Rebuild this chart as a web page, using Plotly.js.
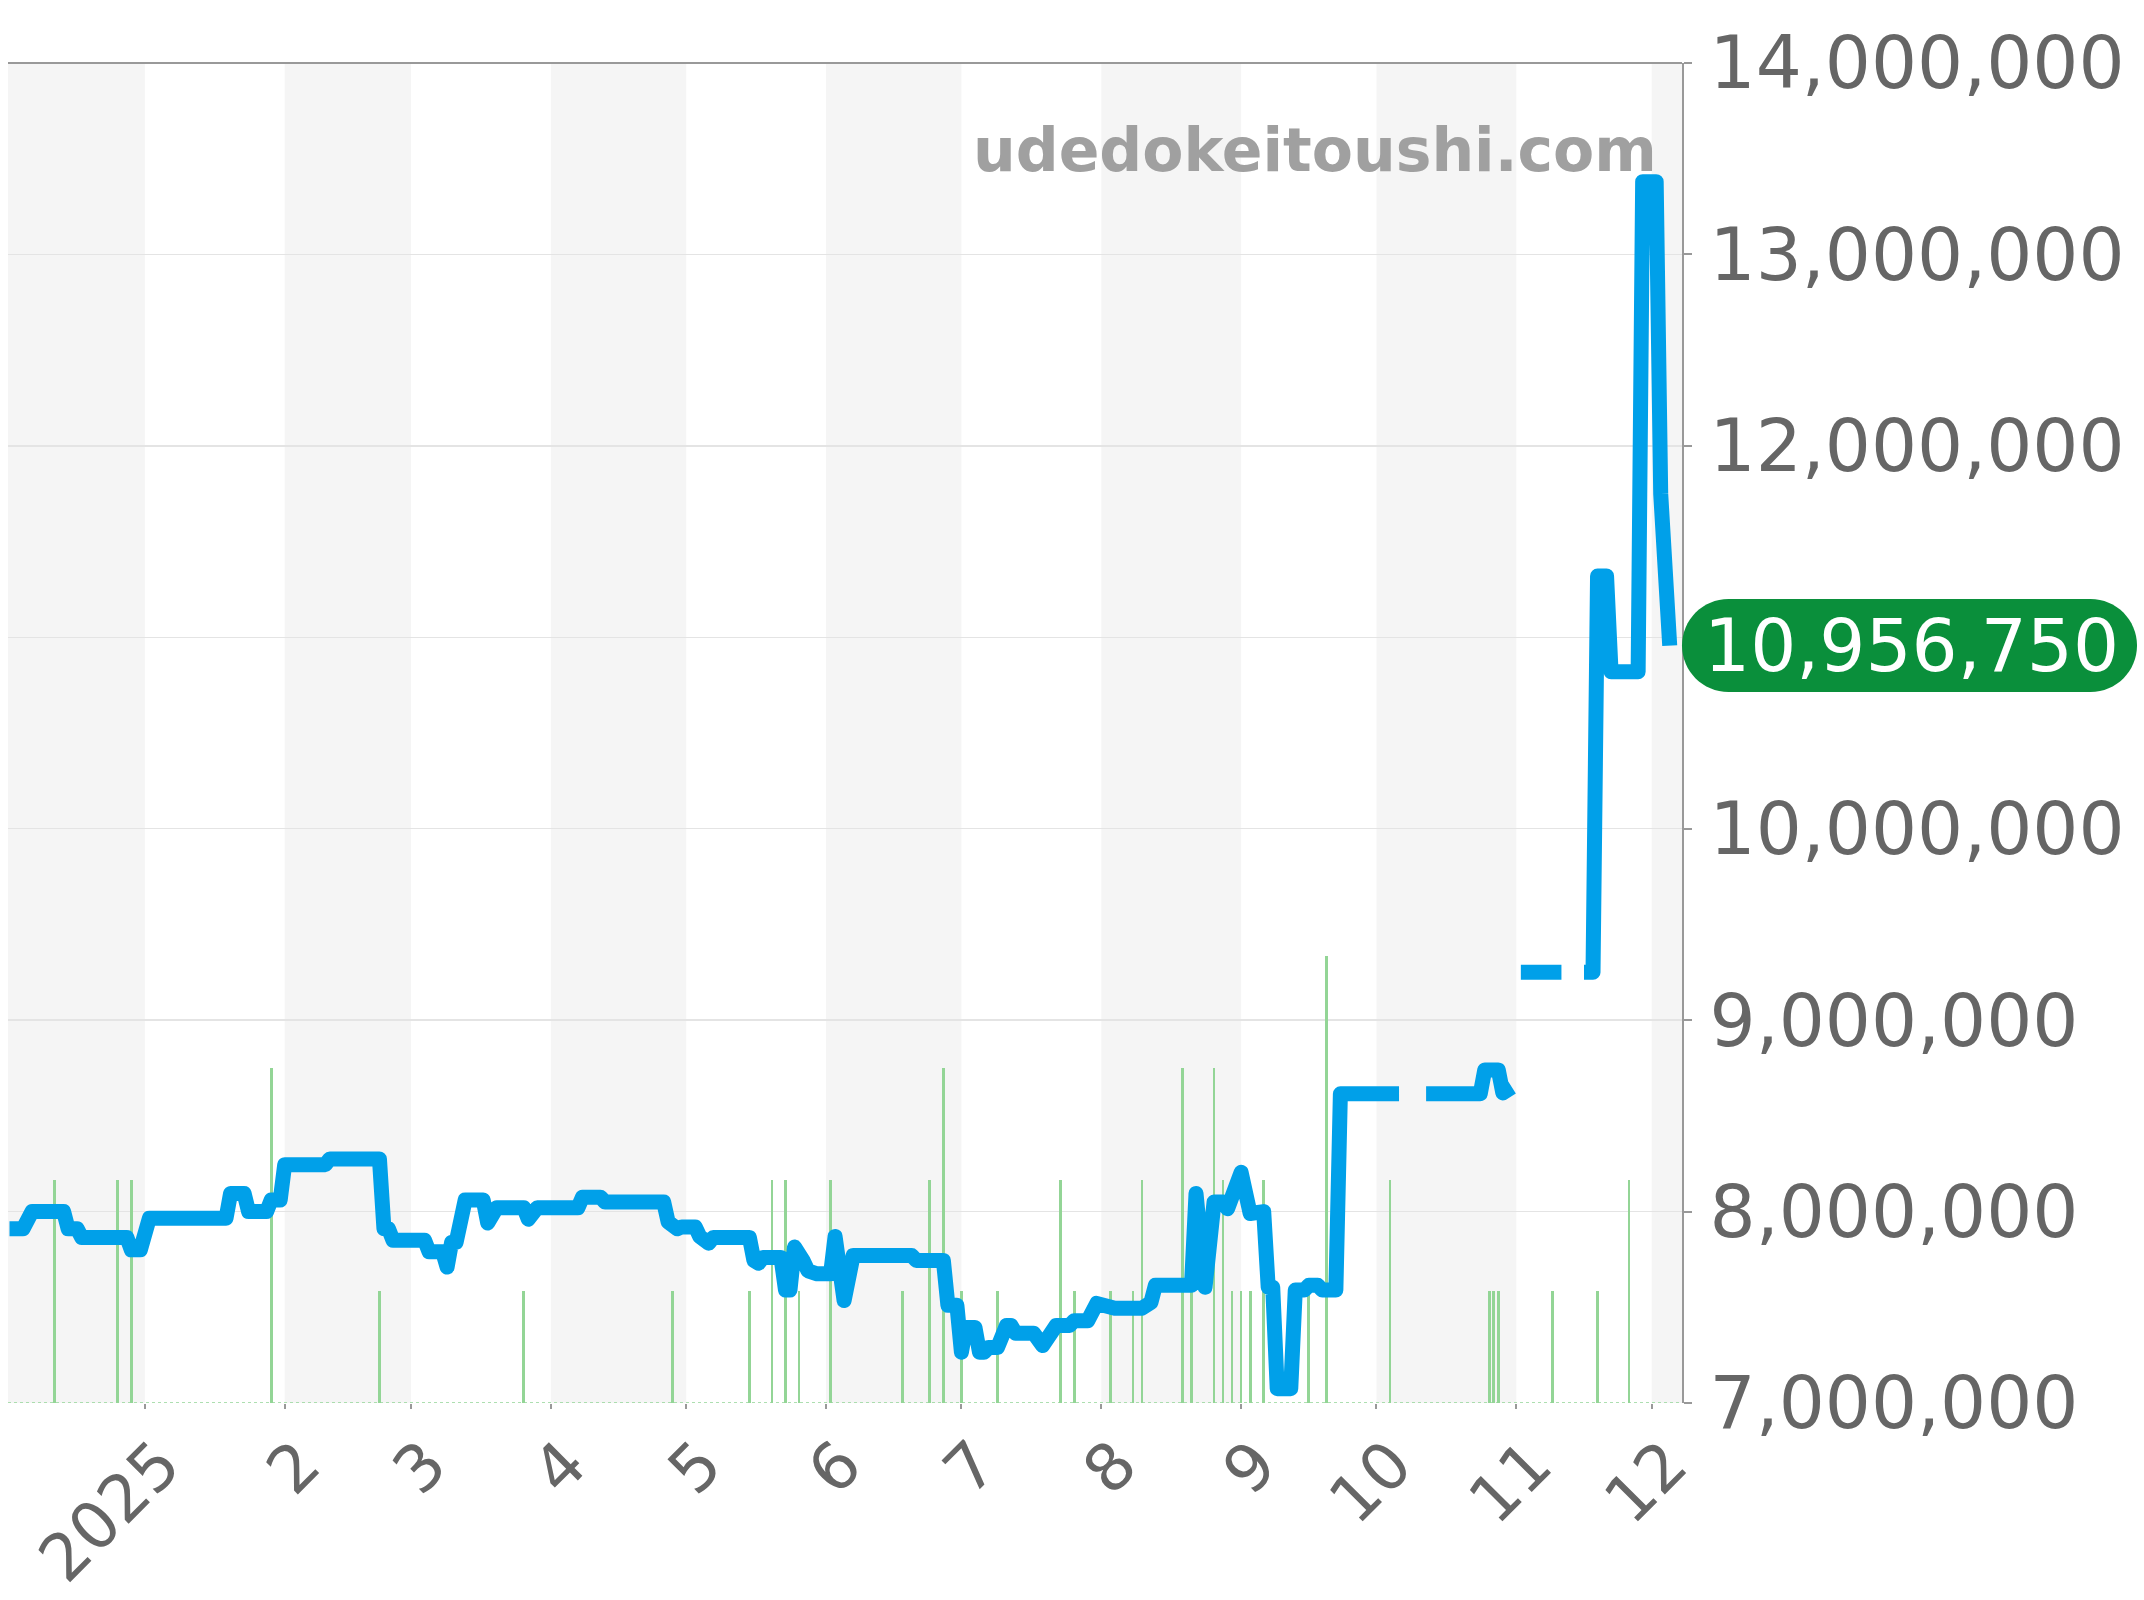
<!DOCTYPE html>
<html>
<head>
<meta charset="utf-8">
<script src="https://cdn.plot.ly/plotly-3.0.1.min.js"></script>
<style>
  html, body { margin: 0; padding: 0; background: #fff; }
  #chart { width: 2144px; height: 1600px; }
  .scatterlayer .js-line { stroke-linejoin: round; }
</style>
</head>
<body>
<div id="chart"></div>
<script>
// Daily market price (JPY); null marks days without a quote
const priceDates = [
  '2024-12-02','2024-12-05','2024-12-07','2024-12-14','2024-12-15','2024-12-17','2024-12-18','2024-12-28',
  '2024-12-29','2024-12-31','2025-01-02','2025-01-19','2025-01-20','2025-01-23','2025-01-24','2025-01-28',
  '2025-01-29','2025-01-31','2025-02-01','2025-02-10','2025-02-11','2025-02-22','2025-02-23','2025-02-24',
  '2025-02-25','2025-03-04','2025-03-05','2025-03-08','2025-03-09','2025-03-10','2025-03-11','2025-03-12',
  '2025-03-13','2025-03-17','2025-03-18','2025-03-20','2025-03-26','2025-03-27','2025-03-29','2025-04-07',
  '2025-04-08','2025-04-12','2025-04-13','2025-04-26','2025-04-27','2025-04-29','2025-04-30','2025-05-03',
  '2025-05-04','2025-05-06','2025-05-07','2025-05-15','2025-05-16','2025-05-17','2025-05-18','2025-05-22',
  '2025-05-23','2025-05-24','2025-05-25','2025-05-27','2025-05-28','2025-05-30','2025-06-02','2025-06-03',
  '2025-06-05','2025-06-07','2025-06-20','2025-06-21','2025-06-27','2025-06-28','2025-06-30','2025-07-01',
  '2025-07-02','2025-07-04','2025-07-05','2025-07-06','2025-07-07','2025-07-09','2025-07-11','2025-07-12',
  '2025-07-13','2025-07-17','2025-07-19','2025-07-22','2025-07-25','2025-07-26','2025-07-29','2025-07-31',
  '2025-08-02','2025-08-04','2025-08-10','2025-08-12','2025-08-13','2025-08-21','2025-08-22','2025-08-24',
  '2025-08-26','2025-08-28','2025-08-29','2025-09-01','2025-09-03','2025-09-06','2025-09-07','2025-09-08',
  '2025-09-09','2025-09-12','2025-09-13','2025-09-15','2025-09-16','2025-09-18','2025-09-19','2025-09-22',
  '2025-09-23','2025-10-06','2025-10-09','2025-10-12','2025-10-24','2025-10-25','2025-10-28','2025-10-29',
  '2025-10-31','2025-11-01','2025-11-02','2025-11-11','2025-11-13','2025-11-16','2025-11-18','2025-11-19',
  '2025-11-21','2025-11-22','2025-11-28','2025-11-29','2025-12-02','2025-12-03','2025-12-05'
];
const priceValues = [
  7910000, 7910000, 8000000, 8000000, 7910000, 7910000, 7865000, 7865000,
  7800000, 7800000, 7965000, 7965000, 8095000, 8095000, 8000000, 8000000,
  8060000, 8060000, 8245000, 8245000, 8275000, 8275000, 7910000, 7910000,
  7850000, 7850000, 7790000, 7790000, 7710000, 7840000, 7840000, 7940000,
  8060000, 8060000, 7940000, 8020000, 8020000, 7960000, 8020000, 8020000,
  8075000, 8075000, 8050000, 8050000, 7945000, 7910000, 7920000, 7920000,
  7870000, 7835000, 7865000, 7865000, 7745000, 7730000, 7760000, 7760000,
  7590000, 7590000, 7815000, 7740000, 7690000, 7675000, 7675000, 7870000,
  7535000, 7770000, 7770000, 7745000, 7745000, 7510000, 7510000, 7265000,
  7395000, 7395000, 7265000, 7265000, 7290000, 7290000, 7405000, 7405000,
  7365000, 7365000, 7300000, 7405000, 7405000, 7430000, 7430000, 7520000,
  7510000, 7495000, 7495000, 7525000, 7615000, 7615000, 8095000, 7605000,
  8050000, 8050000, 8015000, 8205000, 7990000, 8000000, 7605000, 7605000,
  7075000, 7075000, 7590000, 7590000, 7615000, 7615000, 7590000, 7590000,
  8615000, 8615000, null,    8615000, 8615000, 8740000, 8740000, 8620000,
  8650000, null,    9250000, 9250000, null,    9250000, 9250000, 11320000,
  11320000, 10820000, 10820000, 13380000, 13380000, 11750000, 10956750
];

// Number of transactions per day
const volumeDates = [
  '2024-12-12','2024-12-26','2024-12-29','2025-01-29','2025-02-22','2025-03-26','2025-04-28','2025-05-15',
  '2025-05-20','2025-05-23','2025-05-26','2025-06-02','2025-06-18','2025-06-24','2025-06-27','2025-07-01',
  '2025-07-09','2025-07-23','2025-07-26','2025-08-03','2025-08-08','2025-08-10','2025-08-19','2025-08-21',
  '2025-08-26','2025-08-28','2025-08-30','2025-09-01','2025-09-03','2025-09-06','2025-09-16','2025-09-20',
  '2025-10-04','2025-10-26','2025-10-27','2025-10-28','2025-11-09','2025-11-19','2025-11-26'
];
const volumeCounts = [
  2, 2, 2, 3, 1, 1, 1, 1,
  2, 2, 1, 2, 1, 2, 3, 1,
  1, 2, 1, 1, 1, 2, 3, 1,
  3, 2, 1, 1, 1, 2, 1, 4,
  2, 1, 1, 1, 1, 1, 2
];

// Month ticks on the date axis
const monthTickDates = [
  '2025-01-01','2025-02-01','2025-03-01','2025-04-01','2025-05-01','2025-06-01',
  '2025-07-01','2025-08-01','2025-09-01','2025-10-01','2025-11-01','2025-12-01'
];
const monthTickLabels = ['2025','2','3','4','5','6','7','8','9','10','11','12'];

// Price axis ticks
const priceTicks = [7000000, 8000000, 9000000, 10000000, 11000000, 12000000, 13000000, 14000000];

const xRange = ['2024-12-01 16:00', '2025-12-07 17:20'];
const siteName = 'udedokeitoushi.com';

const lineBlue = '#00a0e9';
const barGreen = '#93d596';
const badgeGreen = '#0a8f3b';
const bandGrey = '#f5f5f5';

// Alternate month shading: every other month starting from December
const bandEdges = [xRange[0]].concat(monthTickDates, [xRange[1]]);
const shapes = [];
for (let i = 0; i < bandEdges.length - 1; i += 2) {
  shapes.push({
    type: 'rect', layer: 'below', xref: 'x', yref: 'paper',
    x0: bandEdges[i], x1: bandEdges[i + 1], y0: 0, y1: 1,
    fillcolor: bandGrey, line: { width: 0 }
  });
}
// top frame line
shapes.push({
  type: 'line', layer: 'above', xref: 'paper', yref: 'paper',
  x0: 0, x1: 1, y0: 1, y1: 1, line: { color: '#999', width: 2 }
});
// dotted base line of the volume bars
shapes.push({
  type: 'line', layer: 'below', xref: 'paper', yref: 'y',
  x0: 0, x1: 1, y0: 0, y1: 0, line: { color: barGreen, width: 1.5, dash: 'dot' }
});

// Pill-shaped badge holding the latest price
let lastIdx = priceValues.length - 1;
while (priceValues[lastIdx] === null) lastIdx--;
const lastPrice = priceValues[lastIdx];
const pillW = 455, pillH = 93, r = pillH / 2, k = 0.5523 * r;
const pillPath = [
  `M ${r},${r}`,
  `L ${pillW - r},${r}`,
  `C ${pillW - r + k},${r} ${pillW},${k} ${pillW},0`,
  `C ${pillW},${-k} ${pillW - r + k},${-r} ${pillW - r},${-r}`,
  `L ${r},${-r}`,
  `C ${r - k},${-r} 0,${-k} 0,0`,
  `C 0,${k} ${r - k},${r} ${r},${r}`,
  'Z'
].join(' ');
shapes.push({
  type: 'path', layer: 'above',
  xref: 'paper', xsizemode: 'pixel', xanchor: 1,
  yref: 'y2', ysizemode: 'pixel', yanchor: lastPrice,
  path: pillPath, fillcolor: badgeGreen, line: { width: 0 }
});

// tick labels sitting under the badge are left blank (the badge covers them)
const priceTickText = priceTicks.map(v =>
  Math.abs(v - lastPrice) < 300000 ? '' : v.toLocaleString('en-US'));

const traces = [
  {
    type: 'bar', x: volumeDates, y: volumeCounts,
    xaxis: 'x', yaxis: 'y',
    width: 0.6 * 86400000,
    marker: { color: barGreen, line: { width: 0 } },
    hoverinfo: 'skip'
  },
  {
    type: 'scatter', mode: 'lines', x: priceDates, y: priceValues,
    xaxis: 'x', yaxis: 'y2',
    connectgaps: false,
    line: { color: lineBlue, width: 15, shape: 'linear' },
    hoverinfo: 'skip'
  }
];

const layout = {
  width: 2144, height: 1600,
  margin: { l: 8, r: 462, t: 63, b: 197, pad: 0 },
  paper_bgcolor: '#ffffff', plot_bgcolor: '#ffffff',
  font: { family: 'DejaVu Sans', color: '#666666' },
  showlegend: false,
  bargap: 0,
  xaxis: {
    type: 'date', range: xRange,
    tickmode: 'array', tickvals: monthTickDates, ticktext: monthTickLabels,
    tickangle: -45, ticks: 'outside', ticklen: 5, tickwidth: 2, tickcolor: '#999',
    ticklabelshift: 16, ticklabelstandoff: -9,
    tickfont: { size: 65, color: '#666666' },
    showgrid: false, zeroline: false, showline: false, fixedrange: true
  },
  yaxis: {
    range: [0, 12], visible: false, showgrid: false, zeroline: false, fixedrange: true
  },
  yaxis2: {
    overlaying: 'y', side: 'right',
    range: [7000000, 14000000],
    tickmode: 'array', tickvals: priceTicks, ticktext: priceTickText,
    showgrid: true, gridcolor: '#e4e4e4', gridwidth: 1.5,
    showline: true, linecolor: '#999', linewidth: 2,
    ticks: 'outside', ticklen: 8, tickwidth: 2, tickcolor: '#999',
    ticklabelstandoff: 3,
    tickfont: { size: 72.5, color: '#666666' },
    zeroline: false, fixedrange: true
  },
  shapes: shapes,
  annotations: [
    {
      xref: 'paper', yref: 'paper', x: 0.986, y: 0.935,
      xanchor: 'right', yanchor: 'middle', showarrow: false,
      text: '<b>' + siteName + '</b>',
      font: { family: 'DejaVu Sans', size: 60, color: '#a0a0a0' }
    },
    {
      xref: 'paper', yref: 'y2', x: 1, y: lastPrice,
      xshift: pillW / 2 + 2, xanchor: 'center', yanchor: 'middle', showarrow: false,
      text: lastPrice.toLocaleString('en-US'),
      font: { family: 'DejaVu Sans', size: 72.5, color: '#ffffff' }
    }
  ]
};

Plotly.newPlot('chart', traces, layout, { staticPlot: true, displayModeBar: false });
</script>
</body>
</html>
